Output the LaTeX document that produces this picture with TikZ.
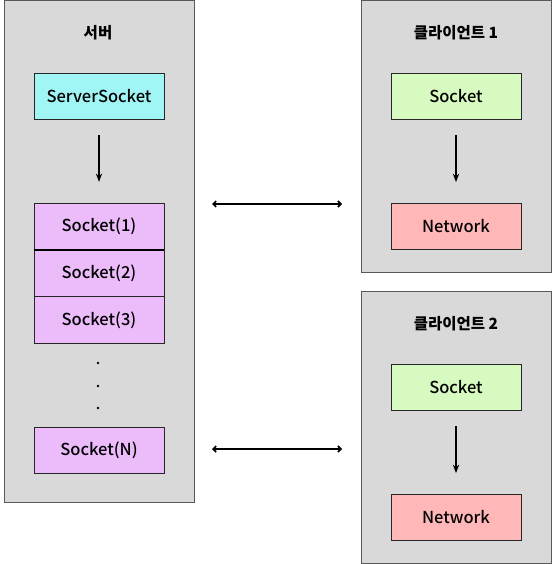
\documentclass[tikz,border=0pt]{standalone}
\usepackage{fontspec}
\setmainfont{Noto Sans CJK KR}
\newfontfamily\medfont{Noto Sans CJK KR Medium}
\usetikzlibrary{positioning}
\usetikzlibrary{arrows.meta}

\definecolor{panelgray}{RGB}{217,217,217}
\definecolor{srvcyan}{RGB}{160,245,245}
\definecolor{sockpurple}{RGB}{235,187,250}
\definecolor{clgreen}{RGB}{214,250,192}
\definecolor{netred}{RGB}{255,183,183}

\begin{document}
\begin{tikzpicture}[
      x=1pt, y=-1pt, >=Stealth,
      panel/.style={draw=black!65, fill=panelgray, line width=0.8pt, minimum width=190pt, inner sep=0pt, anchor=north west},
      box/.style={draw=black!85, line width=0.8pt, minimum width=130pt, minimum height=46pt, inner sep=0pt},
      title/.style={font=\fontsize{15.5}{18}\selectfont\bfseries},
      dotmark/.style={circle, fill=black, inner sep=0pt, minimum size=2.8pt},
      every node/.style={font=\fontsize{16.5}{19}\selectfont\medfont}]

      \useasboundingbox (0,0) rectangle (553,564);

      % panels
      \node[panel, minimum height=502pt] (server) at (4,0) {};
      \node[panel, minimum height=272pt] (client1) at (361,0) {};
      \node[panel, minimum height=272pt] (client2) at (361,291) {};

      % server
      \node[title] (serverT) at (98,33) {서버};
      \node[box, fill=srvcyan] (srv) at (99,96) {ServerSocket};
      \foreach \i/\y/\lab in {1/226.5/{Socket(1)}, 2/273.5/{Socket(2)}, 3/320/{Socket(3)}, N/450.5/{Socket(N)}}{
        \node[box, fill=sockpurple, minimum height=46.5pt] (S\i) at (99,\y) {\lab};
      }
      \draw[line width=1.6pt] (S1.south west) -- (S1.south east);
      \foreach \i/\y in {1/363, 2/386, 3/408}{
        \node[dotmark] (dot\i) at (98,\y) {};
      }
      \draw[->, line width=1.2pt, shorten <=16pt, shorten >=21pt] (srv) -- (S1.north -| srv);

      % clients
      \foreach \c/\y/\lab in {1/0/{클라이언트 1}, 2/291/{클라이언트 2}}{
        \node[title] (C\c T) at (456,\y+33) {\lab};
        \node[box, fill=clgreen] (sock\c) at (456,\y+96) {Socket};
        \node[box, fill=netred] (net\c) at (456,\y+226.5) {Network};
        \draw[->, line width=1.2pt, shorten <=16pt, shorten >=21pt] (sock\c) -- (net\c.north);
      }

      % links
      \coordinate (L1a) at (212,204);
      \coordinate (L1b) at (342,204);
      \coordinate (L2a) at (212,449);
      \coordinate (L2b) at (342,449);
      \draw[{Straight Barb[length=3pt,width=6pt]}-{Straight Barb[length=3pt,width=6pt]}, line width=1.6pt] (L1a) -- (L1b);
      \draw[{Straight Barb[length=3pt,width=6pt]}-{Straight Barb[length=3pt,width=6pt]}, line width=1.6pt] (L2a) -- (L2b);
    \end{tikzpicture}
\end{document}
